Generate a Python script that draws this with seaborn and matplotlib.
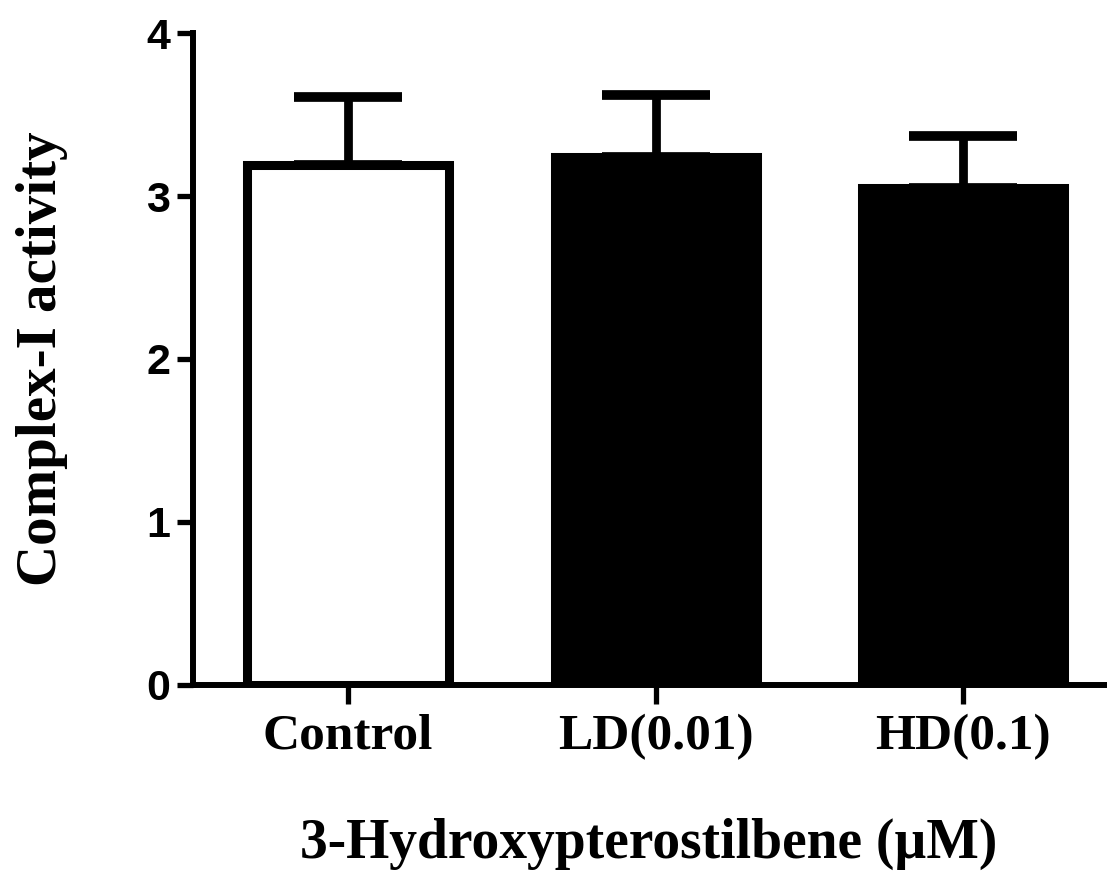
import pandas as pd
import matplotlib
matplotlib.use("Agg")
import matplotlib.pyplot as plt
import seaborn as sns

# values
groups = ["Control", "LD(0.01)", "HD(0.1)"]
means = [3.19, 3.24, 3.05]
sds = [0.42, 0.38, 0.32]
fills = ["white", "black", "black"]

df = pd.DataFrame({"group": groups, "activity": means})

sns.set_style("ticks", {"axes.edgecolor": "black", "text.color": "black",
                        "xtick.color": "black", "ytick.color": "black",
                        "axes.labelcolor": "black"})
fig = plt.figure(figsize=(11.07, 8.71), dpi=100)
ax = fig.add_axes([0.1743, 0.2141, 0.8237, 0.7475])

sns.barplot(data=df, x="group", y="activity", hue="group", order=groups,
            palette=dict(zip(groups, fills)), edgecolor="black", linewidth=6.5,
            width=0.657, errorbar=None, legend=False, ax=ax)

ax.errorbar(range(len(groups)), means, yerr=[[0] * len(groups), sds],
            fmt="none", ecolor="black", elinewidth=6.3, capsize=39, capthick=7,
            zorder=1)

ax.set_ylim(0, 4)
ax.set_xlim(-0.504, 2.46)
ax.set_yticks([0, 1, 2, 3, 4])

for s in ["top", "right"]:
    ax.spines[s].set_visible(False)
for s in ["left", "bottom"]:
    ax.spines[s].set_linewidth(4.3)
    ax.spines[s].set_capstyle("projecting")

ax.tick_params(axis="y", length=11.5, width=3.8, pad=5)
ax.tick_params(axis="x", length=14, width=3.8, pad=7)

for lab in ax.get_yticklabels():
    lab.set_fontfamily("Liberation Sans")
    lab.set_fontweight("bold")
    lab.set_fontsize(31)
for lab in ax.get_xticklabels():
    lab.set_fontfamily("Liberation Serif")
    lab.set_fontweight("bold")
    lab.set_fontsize(37)

ax.set_xlabel("3-Hydroxypterostilbene (µM)", fontfamily="Liberation Serif",
              fontweight="bold", fontsize=40, labelpad=42)
ax.set_ylabel("Complex-I activity", fontfamily="Liberation Serif",
              fontweight="bold", fontsize=41, labelpad=56)

fig.savefig("out.png", dpi=100)
